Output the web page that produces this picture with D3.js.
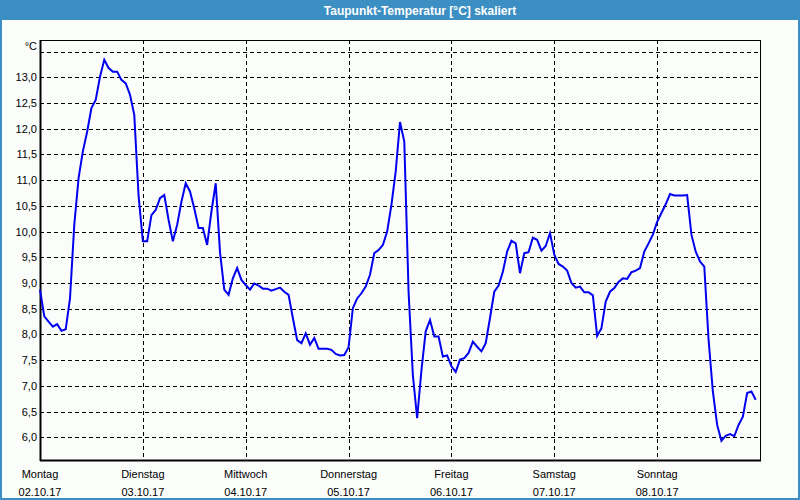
<!DOCTYPE html>
<html><head><meta charset="utf-8">
<script src="https://cdnjs.cloudflare.com/ajax/libs/d3/7.8.5/d3.min.js"></script>
<style>body{margin:0;background:#fbfdfb;}svg{display:block;}</style>
</head><body>
<script>
const title = "Taupunkt-Temperatur [°C] skaliert";
const unitLabel = "°C";
const dayNames = ["Montag","Dienstag","Mittwoch","Donnerstag","Freitag","Samstag","Sonntag"];
const dayDates = ["02.10.17","03.10.17","04.10.17","05.10.17","06.10.17","07.10.17","08.10.17"];
const yTicks = [6.0,6.5,7.0,7.5,8.0,8.5,9.0,9.5,10.0,10.5,11.0,11.5,12.0,12.5,13.0,13.5];
const yTickLabels = ["6,0","6,5","7,0","7,5","8,0","8,5","9,0","9,5","10,0","10,5","11,0","11,5","12,0","12,5","13,0",""];
// hourly dew point values, 02.10.17 00:00 .. 08.10.17 23:00
const values = [
 8.87,8.35,8.25,8.15,8.2,8.07,8.1,8.7,10.13,11.04,11.56,11.94,12.4,12.56,13.01,13.34,13.18,13.11,13.11,12.95,12.88,12.66,12.27,10.7,
 9.81,9.81,10.32,10.42,10.65,10.71,10.23,9.81,10.13,10.58,10.94,10.78,10.45,10.07,10.07,9.74,10.39,10.94,9.6,8.87,8.77,9.09,9.29,9.06,
 8.96,8.87,8.99,8.95,8.89,8.89,8.85,8.88,8.91,8.83,8.77,8.32,7.89,7.83,8.02,7.8,7.93,7.72,7.72,7.72,7.7,7.62,7.59,7.6,
 7.75,8.51,8.7,8.8,8.93,9.16,9.58,9.64,9.74,10.0,10.52,11.17,12.13,11.75,8.83,7.21,6.37,7.3,8.06,8.28,7.96,7.96,7.57,7.59,
 7.38,7.27,7.51,7.54,7.64,7.86,7.76,7.67,7.83,8.32,8.83,8.95,9.22,9.61,9.82,9.77,9.19,9.58,9.6,9.88,9.84,9.63,9.72,9.97,
 9.55,9.37,9.32,9.24,9.0,8.91,8.93,8.82,8.82,8.76,7.97,8.12,8.64,8.83,8.9,9.02,9.09,9.08,9.21,9.24,9.29,9.61,9.77,9.94,
 10.19,10.36,10.53,10.73,10.7,10.7,10.7,10.71,9.94,9.61,9.42,9.32,7.9,6.89,6.24,5.93,6.03,6.06,6.02,6.24,6.4,6.86,6.89,6.73
];

const W = 800, H = 500;
const L = 40, R = 760, T = 40, B = 460;
const font = "'Liberation Sans', Arial, sans-serif";

const svg = d3.select("body").append("svg").attr("width", W).attr("height", H);
svg.append("rect").attr("width", W).attr("height", H).attr("fill", "#fbfdfb");

// window frame + title bar
svg.append("rect").attr("x", 0).attr("y", 0).attr("width", W).attr("height", 20).attr("fill", "#3c8fc3");
svg.append("rect").attr("x", 0).attr("y", 0).attr("width", 2).attr("height", H).attr("fill", "#3c8fc3");
svg.append("rect").attr("x", W - 2).attr("y", 0).attr("width", 2).attr("height", H).attr("fill", "#3c8fc3");
svg.append("rect").attr("x", 0).attr("y", H - 2).attr("width", W).attr("height", 2).attr("fill", "#3c8fc3");
svg.append("text").attr("x", 420).attr("y", 15).attr("text-anchor", "middle")
  .attr("font-family", font).attr("font-weight", "bold").attr("font-size", 12)
  .attr("fill", "#ffffff").text(title);

const x = d3.scaleLinear().domain([0, 168]).range([L, R]);
const y = d3.scaleLinear().domain([5.558, 13.725]).range([B, T]);

// horizontal grid
svg.append("g").selectAll("line").data(yTicks).join("line")
  .attr("x1", L).attr("x2", R)
  .attr("y1", d => Math.round(y(d)) + 0.5).attr("y2", d => Math.round(y(d)) + 0.5)
  .attr("stroke", "#000").attr("stroke-width", 1).attr("stroke-dasharray", "4,3");

// vertical day grid
svg.append("g").selectAll("line").data(dayNames.slice(1)).join("line")
  .attr("x1", (d, i) => Math.round(x((i + 1) * 24)) + 0.5).attr("x2", (d, i) => Math.round(x((i + 1) * 24)) + 0.5)
  .attr("y1", T).attr("y2", B)
  .attr("stroke", "#000").attr("stroke-width", 1).attr("stroke-dasharray", "4,3");

// frame
svg.append("rect").attr("x", L + 0.5).attr("y", T + 0.5).attr("width", R - L).attr("height", B - T)
  .attr("fill", "none").attr("stroke", "#000").attr("stroke-width", 1);
svg.append("line").attr("x1", L + 0.5).attr("x2", L + 0.5).attr("y1", T).attr("y2", B + 1)
  .attr("stroke", "#000").attr("stroke-width", 2);
svg.append("line").attr("x1", L).attr("x2", R + 1).attr("y1", B + 0.5).attr("y2", B + 0.5)
  .attr("stroke", "#000").attr("stroke-width", 2);

// y labels
svg.append("g").selectAll("text").data(yTicks).join("text")
  .attr("x", 37).attr("y", d => y(d) + 4).attr("text-anchor", "end")
  .attr("font-family", font).attr("font-size", 11).attr("fill", "#000")
  .text((d, i) => yTickLabels[i]);
svg.append("text").attr("x", 37).attr("y", 50).attr("text-anchor", "end")
  .attr("font-family", font).attr("font-size", 11).attr("fill", "#000").text(unitLabel);

// x labels
const xl = svg.append("g").selectAll("g").data(dayNames).join("g");
xl.append("text").attr("x", (d, i) => x(i * 24)).attr("y", 478).attr("text-anchor", "middle")
  .attr("font-family", font).attr("font-size", 11).attr("fill", "#000").text(d => d);
xl.append("text").attr("x", (d, i) => x(i * 24)).attr("y", 496).attr("text-anchor", "middle")
  .attr("font-family", font).attr("font-size", 11).attr("fill", "#000").text((d, i) => dayDates[i]);

// data line
const line = d3.line().x((d, i) => x(i)).y(d => y(d));
svg.append("path").datum(values).attr("d", line)
  .attr("fill", "none").attr("stroke", "#0000ee").attr("stroke-width", 2).attr("stroke-linejoin", "miter");
</script>
</body></html>
